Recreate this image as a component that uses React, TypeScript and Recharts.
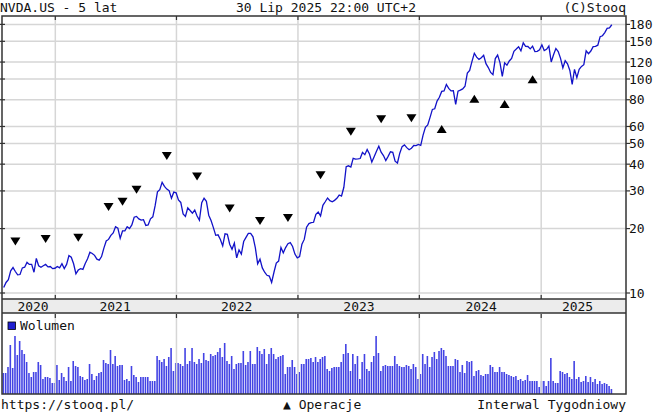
import React from 'react';
import { ComposedChart, Line, Scatter, XAxis, YAxis, ReferenceLine, BarChart, Bar } from 'recharts';

// weekly closes (split adjusted), one array per year
const closes2020 = [10.6, 11.2, 11.55, 12.7, 13.15, 12.6, 12.15, 12.2, 13.1, 13.2, 13.9, 13.6, 13.6, 12.5, 14.5, 13.4, 13.2, 13.4, 13.6, 13.25, 13.3, 13.0, 13.05];
const closes2021 = [13.3, 13.1, 13.7, 13.0, 13.6, 14.95, 14.7, 13.7, 12.3, 12.8, 13.0, 12.9, 13.75, 14.45, 15.5, 15.3, 15.0, 14.4, 14.25, 14.8, 16.2, 17.5, 17.8, 18.6, 19.1, 20.4, 20.1, 18.0, 19.5, 19.5, 20.4, 20.0, 20.8, 22.6, 22.8, 22.2, 21.9, 22.0, 20.7, 20.8, 22.2, 22.7, 25.6, 29.7, 30.4, 32.9, 31.5, 30.6, 30.1, 27.7, 29.6, 29.4];
const closes2022 = [27.2, 26.5, 23.4, 22.8, 25.0, 24.3, 23.6, 24.4, 22.9, 21.9, 26.4, 27.7, 26.8, 23.1, 21.8, 20.2, 18.6, 18.7, 17.8, 16.6, 18.9, 18.8, 16.9, 16.0, 17.1, 14.6, 15.9, 15.2, 17.4, 18.2, 19.0, 19.0, 18.3, 16.3, 13.7, 14.4, 13.1, 12.5, 12.1, 12.0, 11.2, 12.5, 13.8, 14.1, 16.3, 15.4, 16.3, 17.0, 17.2, 16.5, 15.2, 14.6];
const closes2023 = [14.8, 16.9, 17.8, 20.3, 21.1, 21.3, 21.4, 23.3, 23.9, 22.9, 25.7, 26.7, 27.8, 27.0, 26.7, 27.1, 27.7, 28.7, 28.4, 31.2, 38.9, 39.3, 38.8, 42.6, 42.2, 42.3, 42.5, 45.4, 44.3, 46.8, 44.6, 40.9, 43.3, 46.0, 48.5, 45.5, 43.9, 41.6, 43.5, 45.7, 45.4, 41.3, 40.5, 45.0, 48.3, 49.2, 47.8, 46.7, 47.5, 48.9, 48.8, 49.5];
const closes2024 = [49.0, 54.7, 59.5, 61.0, 66.2, 72.1, 72.6, 78.9, 82.2, 87.5, 87.9, 94.3, 90.4, 88.0, 88.1, 76.2, 87.8, 88.8, 89.9, 92.5, 106.5, 109.6, 120.9, 131.9, 126.6, 123.5, 125.8, 129.2, 117.9, 113.1, 107.3, 104.8, 124.6, 129.4, 119.4, 102.8, 119.1, 116.0, 121.4, 124.9, 134.8, 138.0, 141.5, 135.4, 147.6, 142.0, 141.9, 138.3, 142.4, 134.3, 134.7, 137.0];
const closes2025 = [144.5, 135.9, 137.7, 142.6, 120.1, 129.8, 138.9, 134.4, 124.9, 112.7, 121.7, 117.7, 109.7, 94.3, 110.9, 101.5, 111.0, 114.5, 116.7, 135.4, 131.3, 135.1, 141.7, 142.0, 143.9, 157.8, 159.3, 164.9, 172.4, 173.5, 179.3];

// weekly volume, mln shares
const volumes = [
  1680, 1680, 2160, 3920, 2080, 4640, 3120, 4240, 3520, 3200,
  2560, 1680, 1360, 1760, 1760, 2560, 2320, 1200, 1360, 1360,
  1280, 880, 880, 2320, 1120, 1680, 1360, 1040, 2160, 1040,
  2640, 2240, 2160, 1440, 1360, 1120, 1200, 2400, 1600, 1120,
  1440, 1680, 1760, 2720, 2480, 2400, 3520, 2400, 3040, 2240,
  2320, 2320, 1120, 1200, 1040, 2240, 1520, 1360, 960, 1360,
  1360, 1360, 1360, 1040, 1040, 1040, 3040, 2720, 2560, 2800,
  2240, 2960, 3680, 1840, 2480, 2480, 2400, 2240, 3680, 2400,
  2640, 3680, 2560, 2400, 2800, 2480, 3280, 2720, 2640, 3200,
  3040, 3120, 3360, 3680, 2960, 4080, 2640, 2400, 3040, 2000,
  2400, 2480, 2480, 3440, 2320, 2560, 3440, 2400, 2400, 3760,
  3440, 3200, 3600, 2400, 3200, 3680, 3200, 2800, 2960, 3040,
  3120, 1600, 2160, 2160, 2720, 2160, 1600, 1760, 2400, 2400,
  2800, 2800, 2880, 2560, 2960, 2560, 2800, 2960, 3040,
  2000, 1840, 2080, 2160, 2160, 2160, 2560, 3200, 4000, 3280,
  1840, 3200, 2400, 3040, 1200, 2560, 3200, 2000, 1840, 2560,
  3040, 4640, 3280, 1840, 2240, 2320, 2240, 2240, 2240, 3040,
  2400, 2240, 2160, 2160, 2320, 2240, 2000, 2400, 2160, 1200,
  1600, 3200, 2400, 3040, 2160, 2960, 3360, 2800, 3440, 3680,
  3520, 3040, 2240, 2240, 2240, 2800, 2720, 1760, 2320, 1680,
  2640, 2560, 2640, 1440, 1840, 1920, 1520, 1440, 1600, 1600,
  2320, 2160, 1760, 1760, 2160, 1760, 1760, 1600, 1520, 1440,
  1360, 1440, 1120, 1200, 1040, 1120, 1520, 1040, 1040, 1040,
  1040, 560, 1040, 1040, 640, 1040, 2880, 1040, 880, 880,
  1840, 1760, 1600, 1680, 1360, 1200, 2640, 1200, 1360, 960,
  1040, 1440, 960, 1360, 960, 1200, 800, 1040, 800, 880,
  800, 640, 400,
];

const priceTicks = [10, 20, 30, 40, 50, 60, 80, 100, 120, 150, 180];
const yearStarts = [22.15, 74.15, 126.3, 178.4, 230.7];
const yearLabels = ['2020', '2021', '2022', '2023', '2024', '2025'];
const yearLabelPos = [12.6, 47.8, 100.0, 152.5, 204.9, 246.3];

// operations (dividends / splits): week index, level of marker, direction
const opsWeek = [5, 18, 32, 45, 51, 57, 70, 83, 97, 110, 122, 136, 149, 162, 175, 188, 202, 215, 227];
const opsLevel = [17.4, 17.9, 18.1, 25.2, 26.7, 30.4, 43.7, 35.0, 24.8, 21.7, 22.4, 35.5, 56.7, 64.8, 65.5, 58.4, 80.9, 76.4, 99.7];
const opsDir = ['d', 'd', 'd', 'd', 'd', 'd', 'd', 'd', 'd', 'd', 'd', 'd', 'd', 'd', 'd', 'u', 'u', 'u', 'u'];

const prices = [...closes2020, ...closes2021, ...closes2022, ...closes2023, ...closes2024, ...closes2025];
const priceData = prices.map((v, i) => ({ i, v }));
const volumeData = volumes.map((vol, i) => ({ i, vol }));
const opsData = opsWeek.map((i, k) => ({ i, v: opsLevel[k], dir: opsDir[k] }));

const X_DOMAIN: [number, number] = [-0.73, 267.1];
const FONT = '"DejaVu Sans Mono", monospace';
const GRID = '#d6d6d6';
const DARK = '#333';

const PriceTick = (props: any) => {
  const { x, y, payload } = props;
  return (
    <text x={x} y={y} dy="0.35em" textAnchor="start" fontSize={13} fontFamily={FONT} fill="#111">
      {payload.value}
    </text>
  );
};

const YearTick = (props: any) => {
  const { x, y, payload } = props;
  const k = yearLabelPos.indexOf(payload.value);
  return (
    <text x={x} y={y + 7} dy="0.35em" textAnchor="middle" fontSize={13} fontFamily={FONT} fill="#111">
      {yearLabels[k]}
    </text>
  );
};

const HGrid = (p: any) => (
  <g>
    <line x1={p.x1} y1={p.y1} x2={p.x2} y2={p.y2} stroke={GRID} strokeWidth={1.5} />
    <line x1={p.x1} y1={p.y1} x2={p.x1 + 4} y2={p.y1} stroke={DARK} strokeWidth={1.2} />
    <line x1={p.x2 - 3} y1={p.y2} x2={p.x2 + 3} y2={p.y2} stroke={DARK} strokeWidth={1.2} />
  </g>
);

const VGrid = (p: any) => {
  const top = Math.min(p.y1, p.y2);
  const bot = Math.max(p.y1, p.y2);
  return (
    <g>
      <line x1={p.x1} y1={top} x2={p.x2} y2={bot} stroke={GRID} strokeWidth={1.5} />
      <line x1={p.x1} y1={top} x2={p.x1} y2={top + 4} stroke={DARK} strokeWidth={1.2} />
      <line x1={p.x1} y1={bot - 4} x2={p.x1} y2={bot} stroke={DARK} strokeWidth={1.2} />
    </g>
  );
};

const VGridVol = (p: any) => {
  const top = Math.min(p.y1, p.y2);
  const bot = Math.max(p.y1, p.y2);
  return (
    <g>
      <line x1={p.x1} y1={top} x2={p.x2} y2={bot} stroke={GRID} strokeWidth={1.5} />
      <line x1={p.x1} y1={top} x2={p.x1} y2={top + 4} stroke={DARK} strokeWidth={1.2} />
    </g>
  );
};

const OpMark = (p: any) => {
  const { cx, cy, payload } = p;
  const pts =
    payload.dir === 'd'
      ? `${cx - 5},${cy - 4} ${cx + 5},${cy - 4} ${cx},${cy + 4}`
      : `${cx - 5},${cy + 4} ${cx + 5},${cy + 4} ${cx},${cy - 4}`;
  return <polygon points={pts} fill="#000" />;
};

export default function App() {
  return (
    <div style={{ position: 'absolute', left: 0, top: 0, width: 654, height: 415, background: '#fff', fontFamily: FONT }}>
      <div style={{ position: 'absolute', left: 2, top: 299, width: 624, height: 14, background: '#ececec' }} />

      <div style={{ position: 'absolute', left: 0, top: 0 }}>
        <ComposedChart width={654} height={313} data={priceData} margin={{ top: 16, right: 0, bottom: 0, left: 2 }}>
          <XAxis
            dataKey="i"
            type="number"
            domain={X_DOMAIN}
            allowDataOverflow
            ticks={yearLabelPos}
            interval={0}
            tick={YearTick}
            tickLine={false}
            axisLine={false}
            tickSize={0}
            tickMargin={0}
            height={14}
          />
          <YAxis
            dataKey="v"
            orientation="right"
            scale="log"
            domain={[9.375, 197]}
            allowDataOverflow
            ticks={priceTicks}
            interval={0}
            tick={PriceTick}
            tickLine={false}
            axisLine={false}
            tickSize={0}
            tickMargin={3}
            width={28}
          />
          {priceTicks.map((t) => (
            <ReferenceLine key={'h' + t} y={t} shape={HGrid} />
          ))}
          {yearStarts.map((s) => (
            <ReferenceLine key={'v' + s} x={s} shape={VGrid} />
          ))}
          <Line dataKey="v" type="linear" stroke="#1212c8" strokeWidth={1.3} dot={false} isAnimationActive={false} />
          <Scatter data={opsData} dataKey="v" shape={OpMark} isAnimationActive={false} />
        </ComposedChart>
      </div>

      <div style={{ position: 'absolute', left: 0, top: 314 }}>
        <BarChart width={654} height={80} data={volumeData} margin={{ top: 0, right: 28, bottom: 0, left: 2 }}>
          <XAxis dataKey="i" type="number" domain={X_DOMAIN} allowDataOverflow hide />
          <YAxis domain={[0, 6400]} allowDataOverflow hide />
          {yearStarts.map((s) => (
            <ReferenceLine key={'vv' + s} x={s} shape={VGridVol} />
          ))}
          <Bar dataKey="vol" fill="#4343e4" barSize={1.6} isAnimationActive={false} />
        </BarChart>
      </div>

      <svg width={654} height={415} style={{ position: 'absolute', left: 0, top: 0, pointerEvents: 'none' }}>
        <g fill="none" stroke={DARK} strokeWidth={1.5}>
          <rect x={2} y={16} width={624} height={378} />
          <line x1={2} y1={299} x2={626} y2={299} />
          <line x1={2} y1={313} x2={626} y2={313} />
        </g>
        <g fontFamily={FONT} fontSize={13} fill="#111">
          <text x={0} y={12}>NVDA.US - 5 lat</text>
          <text x={326} y={12} textAnchor="middle">30 Lip 2025 22:00 UTC+2</text>
          <text x={626} y={12} textAnchor="end">(C)Stooq</text>
          <rect x={8} y={322} width={7.5} height={7.5} fill="#2020d0" stroke="#000" strokeWidth={0.8} />
          <text x={20} y={329.5}>Wolumen</text>
          <text x={1} y={409}>https://stooq.pl/</text>
          <text x={283} y={409}>▲ Operacje</text>
          <text x={626} y={409} textAnchor="end">Interwal Tygodniowy</text>
        </g>
      </svg>
    </div>
  );
}
